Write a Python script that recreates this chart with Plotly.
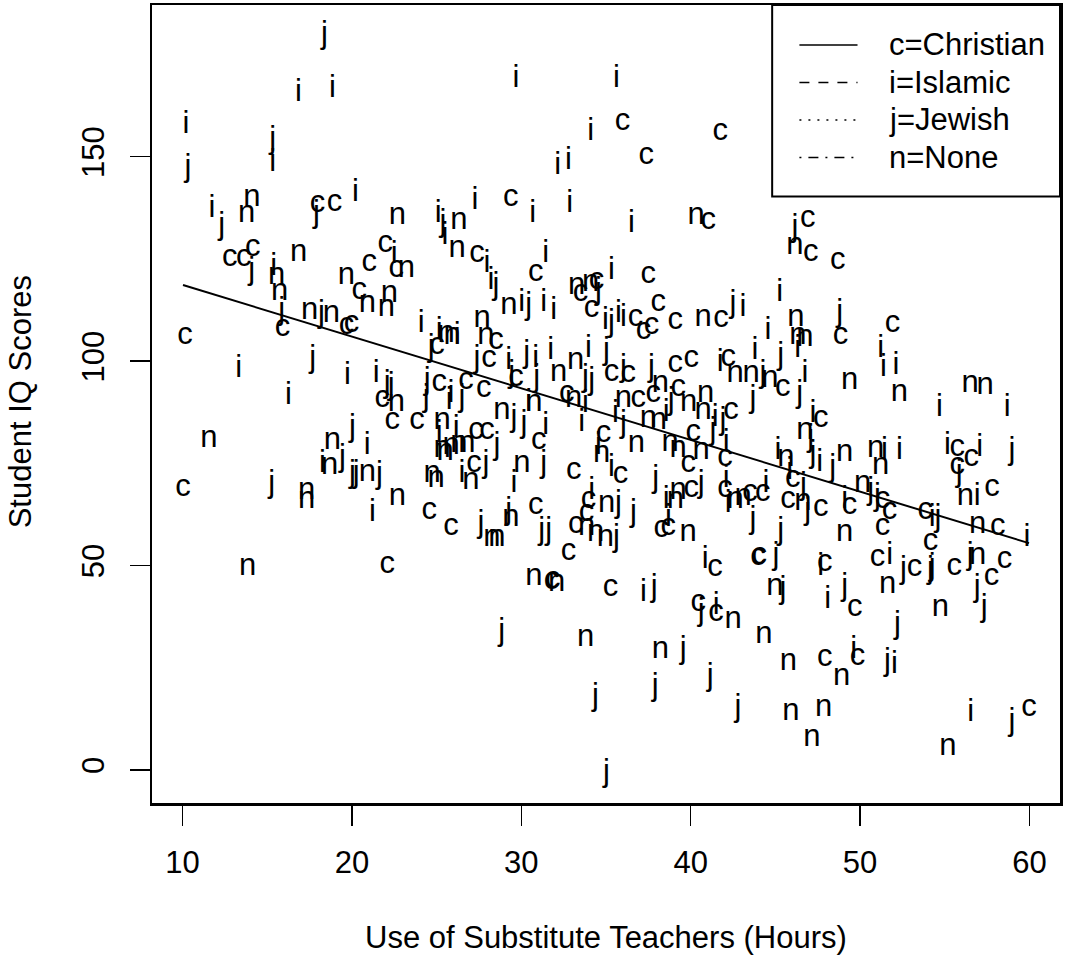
import plotly.graph_objects as go

# ---------------- data ----------------
christian_x = [35.97, 41.74, 37.38, 17.97, 18.97, 29.38, 41.03, 46.91, 47.09, 48.68, 12.79, 13.62, 14.15,
               21.97, 27.38, 30.85, 33.5, 34.44, 37.5, 21.03, 22.62, 15.91, 20.44, 19.68, 19.97, 10.15,
               25.03, 21.79, 25.15, 22.38, 23.85, 10.03, 24.56, 25.85, 34.15, 36.74, 37.21, 37.68, 38.09,
               39.09, 41.79, 28.5, 28.09, 35.32, 36.32, 29.68, 26.74, 27.79, 39.09, 40.03, 42.21, 37.79,
               36.91, 39.26, 32.68, 31.03, 34.85, 42.38, 40.15, 42.03, 39.85, 27.32, 27.97, 27.21, 33.09,
               35.85, 40.03, 42.03, 43.5, 30.85, 33.97, 33.85, 33.21, 38.26, 38.68, 32.79, 41.44, 43.97,
               44.05, 31.79, 31.85, 35.26, 40.44, 41.5, 22.09, 48.85, 51.91, 45.44, 47.68, 55.74, 56.56,
               55.74, 57.79, 46.03, 44.26, 45.74, 47.68, 49.38, 51.32, 51.74, 53.85, 58.12, 51.32, 54.15,
               47.91, 49.68, 51.03, 53.21, 55.56, 58.53, 57.76, 47.91, 49.85, 59.97]
christian_y = [158.5, 156.1, 150.0, 138.3, 138.5, 139.8, 134.1, 134.6, 126.3, 124.4, 125.1, 125.1, 127.6,
               128.5, 126.1, 121.5, 116.6, 119.5, 121.0, 123.9, 122.4, 108.0, 117.1, 108.5, 109.0, 106.1,
               103.7, 90.7, 94.6, 85.4, 85.4, 69.0, 63.4, 59.3, 112.7, 110.5, 107.3, 108.5, 114.1,
               109.8, 110.2, 104.9, 100.5, 97.1, 96.8, 95.9, 95.1, 93.2, 99.3, 100.5, 100.7, 92.0,
               90.7, 93.4, 92.0, 80.5, 82.2, 87.8, 82.4, 76.3, 74.9, 82.9, 82.9, 74.9, 73.2,
               72.0, 68.8, 68.8, 67.8, 64.6, 65.9, 62.9, 59.8, 59.0, 59.3, 53.2, 49.3, 52.0,
               52.3, 46.3, 46.5, 44.4, 40.7, 38.3, 50.0, 106.1, 109.0, 93.4, 85.9, 78.8, 76.3,
               74.4, 69.0, 71.2, 67.6, 65.9, 64.1, 64.6, 65.9, 63.4, 63.4, 59.3, 59.3, 55.6,
               50.5, 39.5, 51.7, 49.3, 49.5, 51.2, 47.1, 27.3, 27.6, 15.1]

islamic_x = [16.85, 18.85, 29.68, 35.62, 10.21, 34.09, 32.15, 32.79, 15.32, 20.21, 11.74, 27.26, 30.68,
             32.85, 25.09, 36.5, 25.5, 27.97, 31.44, 35.32, 22.5, 15.38, 24.09, 25.15, 13.32, 19.74,
             21.44, 25.74, 16.26, 20.91, 18.26, 25.15, 21.21, 28.21, 30.03, 31.32, 31.91, 34.97, 35.74,
             36.03, 43.09, 26.21, 30.85, 31.74, 33.97, 29.26, 25.85, 41.74, 43.79, 33.79, 30.44, 31.44,
             33.56, 35.56, 38.56, 41.44, 42.09, 26.15, 26.5, 29.56, 34.56, 35.32, 42.09, 42.21, 38.56,
             34.15, 38.68, 40.85, 37.21, 41.5, 45.26, 44.56, 46.32, 51.21, 51.38, 52.12, 46.74, 54.68,
             58.68, 47.21, 45.15, 47.62, 51.44, 52.32, 55.15, 57.06, 56.91, 45.85, 44.44, 49.09, 54.26,
             59.85, 47.68, 48.09, 51.74, 49.62, 52.03, 56.53]
islamic_y = [165.6, 166.6, 169.0, 169.0, 157.8, 156.1, 147.6, 148.8, 148.3, 141.0, 137.1, 139.0, 135.9,
             138.3, 135.9, 133.4, 130.5, 123.7, 126.1, 122.0, 125.9, 122.9, 109.0, 107.3, 98.0, 96.3,
             96.8, 90.2, 91.5, 79.3, 74.9, 82.2, 62.9, 119.5, 114.1, 114.1, 112.2, 109.8, 111.5,
             110.5, 112.9, 106.1, 100.5, 102.4, 102.9, 100.0, 92.0, 99.5, 102.4, 89.5, 89.8, 84.1,
             84.9, 87.1, 87.3, 86.1, 80.0, 83.4, 72.4, 70.0, 79.3, 73.9, 71.2, 65.1, 65.9,
             68.3, 61.7, 51.2, 43.2, 40.0, 116.6, 107.3, 102.9, 102.9, 98.3, 98.8, 96.8, 88.5,
             88.5, 87.1, 78.0, 75.1, 78.0, 78.0, 79.3, 78.8, 66.6, 73.2, 70.0, 65.9, 61.7,
             56.8, 49.5, 41.5, 52.4, 29.3, 25.6, 13.9]

jewish_x = [18.38, 15.32, 10.32, 17.91, 12.32, 25.38, 46.15, 14.09, 34.56, 15.85, 18.21, 24.68, 17.68,
            22.09, 22.32, 24.44, 24.38, 20.03, 19.44, 20.03, 20.26, 21.62, 15.26, 28.5, 30.44, 35.32,
            42.5, 27.38, 30.32, 35.03, 33.79, 34.15, 36.03, 29.44, 30.91, 26.5, 37.68, 38.85, 43.68,
            29.56, 30.15, 36.03, 41.91, 41.32, 28.56, 27.91, 31.32, 37.94, 40.62, 43.68, 29.26, 35.74,
            36.62, 27.62, 31.21, 31.62, 35.62, 37.85, 40.62, 28.85, 39.56, 41.15, 37.91, 34.38, 42.79,
            35.03, 48.79, 45.32, 44.26, 46.44, 47.09, 47.21, 48.38, 58.97, 55.85, 46.65, 50.62, 46.91,
            51.03, 54.59, 45.32, 45.03, 45.44, 49.09, 52.56, 54.15, 54.26, 56.5, 56.91, 57.32, 52.21,
            51.62, 58.97]
jewish_y = [179.8, 154.1, 147.1, 135.9, 132.9, 133.7, 132.4, 122.0, 117.1, 112.2, 111.5, 103.2, 100.5,
            94.4, 93.9, 95.1, 91.0, 83.7, 76.3, 72.4, 72.4, 72.0, 70.0, 118.3, 113.4, 109.3,
            113.9, 100.5, 101.7, 102.4, 95.9, 95.1, 98.3, 96.8, 95.9, 91.0, 98.3, 90.2, 90.7,
            86.1, 84.6, 84.6, 85.4, 82.9, 79.3, 74.9, 74.9, 71.2, 70.0, 61.0, 63.4, 65.1,
            62.7, 60.2, 58.5, 58.5, 56.8, 44.4, 38.5, 33.7, 29.3, 22.7, 20.2, 17.8, 15.1,
            -0.7, 111.7, 101.2, 96.8, 92.0, 81.2, 77.3, 73.9, 78.0, 72.7, 69.5, 68.3, 63.4,
            66.6, 61.7, 58.5, 52.4, 43.9, 44.6, 48.8, 48.8, 49.5, 52.4, 44.4, 39.5, 35.4,
            26.3, 11.7]

none_x = [14.09, 13.79, 22.68, 26.32, 40.32, 46.15, 16.85, 26.21, 33.26, 34.09, 23.21, 19.68, 15.56,
          15.74, 20.91, 22.21, 22.03, 17.5, 18.79, 25.56, 22.62, 25.32, 11.56, 18.85, 18.68, 20.91,
          25.32, 25.5, 24.74, 24.97, 17.32, 17.32, 22.68, 29.26, 40.74, 27.68, 25.91, 27.91, 33.21,
          32.21, 42.62, 43.56, 38.21, 36.03, 39.88, 40.88, 33.09, 30.74, 28.85, 36.79, 37.5, 38.09,
          40.74, 40.62, 38.79, 39.26, 26.32, 26.79, 25.85, 27.03, 30.03, 34.74, 39.26, 42.62, 43.09,
          39.09, 29.38, 35.03, 28.26, 28.56, 33.85, 34.38, 34.97, 39.85, 30.74, 32.09, 42.5, 33.79,
          38.21, 13.85, 46.21, 46.32, 46.74, 44.68, 49.38, 52.32, 56.5, 57.38, 46.74, 45.62, 49.09,
          50.91, 51.21, 56.21, 50.15, 46.62, 56.94, 49.09, 44.97, 51.62, 56.94, 54.74, 44.32, 45.76,
          48.91, 45.91, 47.85, 47.15, 55.18]
none_y = [139.8, 135.9, 135.4, 134.1, 135.4, 128.0, 126.3, 127.3, 118.3, 119.0, 122.4, 120.7, 120.7,
          116.8, 113.9, 116.3, 112.9, 112.2, 111.5, 106.6, 89.8, 85.4, 81.0, 80.5, 74.4, 72.7,
          78.5, 77.8, 72.4, 71.2, 68.3, 65.9, 66.6, 113.4, 110.5, 110.2, 106.1, 106.1, 100.0,
          97.1, 96.8, 96.8, 94.4, 90.7, 89.8, 92.0, 90.7, 89.8, 87.8, 79.8, 85.9, 85.4,
          87.8, 78.0, 80.0, 78.5, 79.8, 79.8, 79.3, 70.7, 74.9, 77.3, 68.3, 65.9, 66.6,
          65.9, 61.7, 65.1, 56.8, 56.8, 59.3, 58.0, 56.8, 57.8, 47.1, 45.6, 36.6, 32.2,
          29.3, 49.5, 110.5, 106.1, 105.6, 95.6, 95.1, 92.2, 94.4, 93.9, 82.9, 76.3, 77.6,
          78.5, 74.4, 66.6, 70.0, 65.4, 59.8, 58.0, 44.6, 45.1, 52.4, 39.5, 32.9, 26.3,
          22.7, 14.1, 15.1, 7.8, 5.6]

# fitted regression line
fit_intercept = 131.3
fit_slope = -1.264

x_ticks = [10, 20, 30, 40, 50, 60]
y_ticks = [0, 50, 100, 150]
legend_labels = ["c=Christian", "i=Islamic", "j=Jewish", "n=None"]
legend_dashes = ["solid", "10px,9px", "2px,7px", "2px,7px,10px,7px"]

x_title = "Use of Substitute Teachers (Hours)"
y_title = "Student IQ Scores"

# ---------------- figure ----------------
FONT = "Liberation Sans, Arial, Helvetica, sans-serif"
LETTER_SIZE = 31
TEXT_SIZE = 31

fig = go.Figure()

groups = [("c", christian_x, christian_y), ("i", islamic_x, islamic_y),
          ("j", jewish_x, jewish_y), ("n", none_x, none_y)]
for letter, xs, ys in groups:
    fig.add_trace(go.Scatter(
        x=xs, y=ys, mode="text", text=[letter] * len(xs),
        textposition="middle center",
        textfont=dict(family=FONT, size=LETTER_SIZE, color="black"),
        hoverinfo="skip", showlegend=False))

all_x = christian_x + islamic_x + jewish_x + none_x
x_lo, x_hi = min(all_x), max(all_x)
fig.add_trace(go.Scatter(
    x=[x_lo, x_hi],
    y=[fit_intercept + fit_slope * x_lo, fit_intercept + fit_slope * x_hi],
    mode="lines", line=dict(color="black", width=2),
    hoverinfo="skip", showlegend=False))

# legend box (drawn manually to mimic base-R legend)
shapes = [dict(type="rect", xref="paper", yref="paper", x0=0.683, x1=1.0, y0=0.76, y1=1.0,
               line=dict(color="black", width=2), fillcolor="white", layer="above")]
annotations = []
row_y = [0.950, 0.903, 0.856, 0.809]
for lab, dash, ry in zip(legend_labels, legend_dashes, row_y):
    shapes.append(dict(type="line", xref="paper", yref="paper", x0=0.713, x1=0.777, y0=ry, y1=ry,
                       line=dict(color="black", width=1.5, dash=dash), layer="above"))
    annotations.append(dict(text=lab, xref="paper", yref="paper", x=0.809, y=ry,
                            xanchor="left", yanchor="middle", showarrow=False,
                            font=dict(family=FONT, size=TEXT_SIZE, color="black")))

annotations.append(dict(text=x_title, xref="paper", yref="paper", x=0.4995, y=-0.169,
                        xanchor="center", yanchor="middle", showarrow=False,
                        font=dict(family=FONT, size=TEXT_SIZE, color="black")))
annotations.append(dict(text=y_title, xref="paper", yref="paper", x=-0.145, y=0.5025,
                        xanchor="center", yanchor="middle", showarrow=False, textangle=-90,
                        font=dict(family=FONT, size=TEXT_SIZE, color="black")))

fig.update_layout(
    width=1065, height=956,
    margin=dict(l=152, r=2, t=3, b=153),
    paper_bgcolor="white", plot_bgcolor="white",
    showlegend=False,
    shapes=shapes, annotations=annotations,
    xaxis=dict(range=[8.2, 61.8], tickvals=x_ticks, ticktext=[str(v) for v in x_ticks],
               ticks="outside", ticklen=20, tickwidth=1.5, tickcolor="black",
               ticklabelstandoff=10,
               showline=True, mirror=True, linecolor="black", linewidth=2.5,
               showgrid=False, zeroline=False,
               tickfont=dict(family=FONT, size=TEXT_SIZE, color="black")),
    yaxis=dict(range=[-8.05, 187.1], tickvals=y_ticks, ticktext=[str(v) for v in y_ticks],
               ticks="outside", ticklen=20, tickwidth=1.5, tickcolor="black", tickangle=-90,
               ticklabelstandoff=13,
               showline=True, mirror=True, linecolor="black", linewidth=2.5,
               showgrid=False, zeroline=False,
               tickfont=dict(family=FONT, size=TEXT_SIZE, color="black")),
)

fig.write_html("out.html",
               config={"displayModeBar": False, "staticPlot": True},
               post_script="document.body.style.margin='0';document.body.style.overflow='hidden';")
